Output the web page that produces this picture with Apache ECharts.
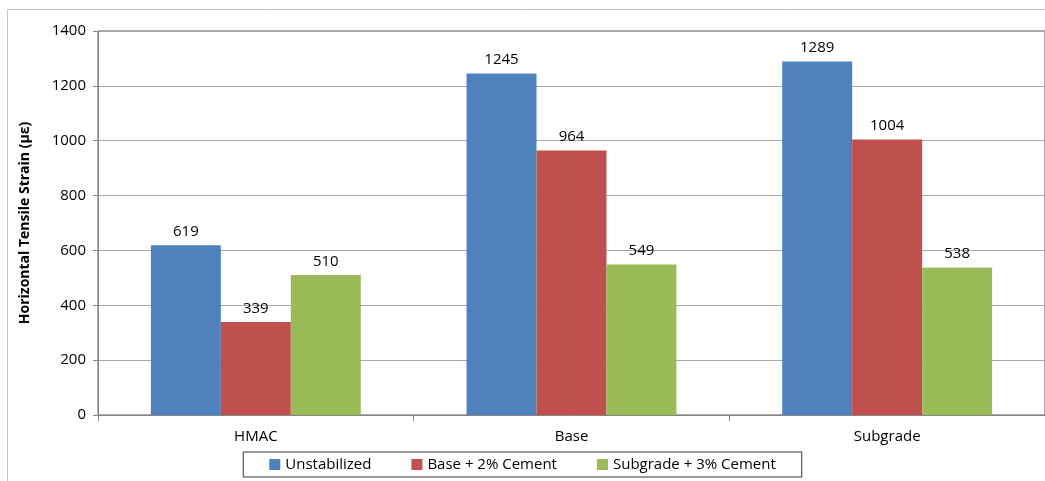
<!DOCTYPE html>
<html><head><meta charset="utf-8">
<script src="https://cdn.jsdelivr.net/npm/echarts@6/dist/echarts.min.js"></script>
<style>html,body{margin:0;padding:0;background:#fff}#c{width:1045px;height:481px;position:relative}</style>
</head><body><div id="c"></div>
<script>
const categories = ['HMAC', 'Base', 'Subgrade'];
const unstabilized = [619, 1245, 1289];
const base2Cement = [339, 964, 1004];
const subgrade3Cement = [510, 549, 538];
const yTicks = { min: 0, max: 1400, interval: 200 };

const chart = echarts.init(document.getElementById('c'), null, { renderer: 'canvas' });
const font = '"Open Sans", "Noto Sans", sans-serif';
const lbl = { show: true, position: 'top', color: '#000', fontSize: 15, fontFamily: font, distance: 6 };
chart.setOption({
  animation: false,
  backgroundColor: '#fff',
  graphic: [
    { type: 'rect', shape: { x: 7.5, y: 9.5, width: 1060, height: 500 }, style: { fill: 'none', stroke: '#c4c4c4', lineWidth: 1 }, silent: true }
  ],
  grid: { left: 98, right: -1, top: 31, bottom: 66, show: true, borderColor: '#555', borderWidth: 1, backgroundColor: 'transparent' },
  legend: {
    bottom: 4, left: 'center', itemWidth: 11, itemHeight: 11, itemGap: 40,
    icon: 'rect', borderColor: '#333', borderWidth: 1, padding: [5, 26, 5, 26],
    textStyle: { fontSize: 15, fontFamily: font, color: '#000' }
  },
  xAxis: {
    type: 'category', data: categories,
    axisLine: { lineStyle: { color: '#868686' } },
    axisTick: { show: true, length: 6, lineStyle: { color: '#868686' } },
    axisLabel: { color: '#000', fontSize: 15, fontFamily: font, margin: 14 }
  },
  yAxis: {
    type: 'value', min: yTicks.min, max: yTicks.max, interval: yTicks.interval,
    name: 'Horizontal Tensile Strain (με)', nameLocation: 'middle', nameGap: 66,
    nameTextStyle: { fontSize: 14, fontWeight: 'bold', fontFamily: font, color: '#000' },
    axisLine: { show: true, lineStyle: { color: '#868686' } },
    axisTick: { show: true, length: 5, lineStyle: { color: '#868686' } },
    axisLabel: { color: '#000', fontSize: 15, fontFamily: font, margin: 12, formatter: v => String(v) },
    splitLine: { lineStyle: { color: '#a8a8a8' } }
  },
  series: [
    { name: 'Unstabilized', type: 'bar', data: unstabilized, itemStyle: { color: '#4f81bd' }, barGap: '0%', barCategoryGap: '33.5%', label: lbl },
    { name: 'Base + 2% Cement', type: 'bar', data: base2Cement, itemStyle: { color: '#c0504d' }, barGap: '0%', barCategoryGap: '33.5%', label: lbl },
    { name: 'Subgrade + 3% Cement', type: 'bar', data: subgrade3Cement, itemStyle: { color: '#9bbb59' }, barGap: '0%', barCategoryGap: '33.5%', label: lbl }
  ]
});
</script></body></html>
